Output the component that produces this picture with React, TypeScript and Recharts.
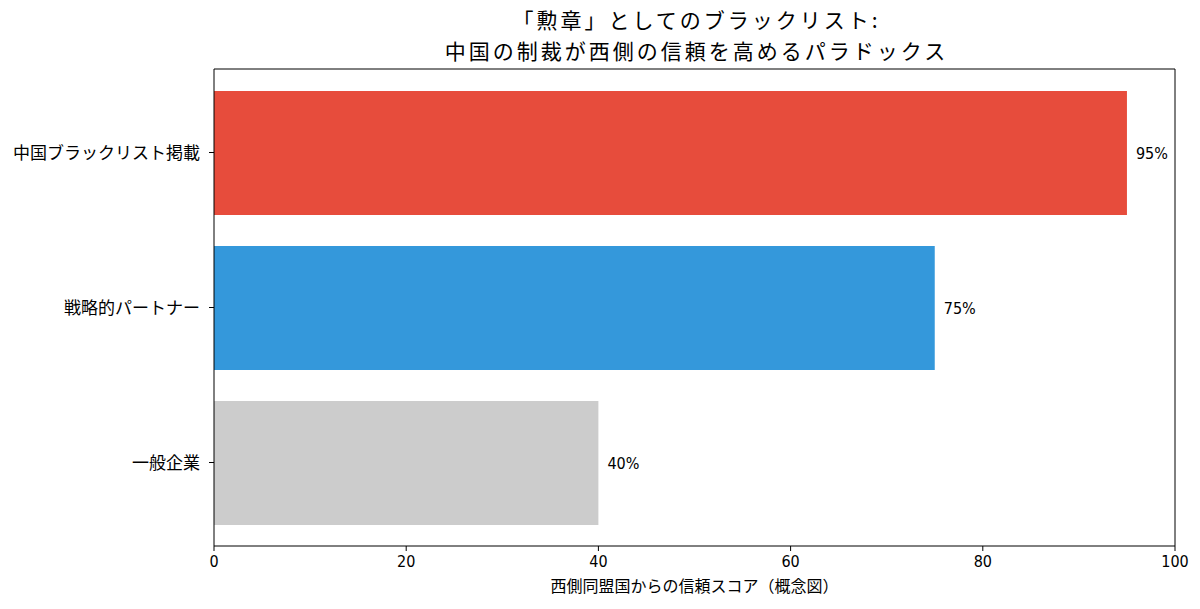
import React from "react";
import {
  BarChart,
  Bar,
  XAxis,
  YAxis,
  Cell,
  LabelList,
} from "recharts";

const categories = ["中国ブラックリスト掲載", "戦略的パートナー", "一般企業"];
const trustScores = [95, 75, 40];
const barColors = ["#e74c3c", "#3498db", "#cccccc"];
const xTicks = [0, 20, 40, 60, 80, 100];

const titleLines = ["「勲章」としてのブラックリスト:", "中国の制裁が西側の信頼を高めるパラドックス"];
const xLabel = "西側同盟国からの信頼スコア（概念図）";

const data = categories.map((name, i) => ({ name, score: trustScores[i] }));

const jpFont = '"Noto Sans CJK JP", "Noto Sans", sans-serif';
const numFont = '"Liberation Sans Narrow", "DejaVu Sans Condensed", "Roboto Condensed", "Noto Sans CJK JP", sans-serif';

export default function App() {
  return (
    <div
      style={{
        position: "absolute",
        left: 0,
        top: 0,
        width: 1200,
        height: 609,
        background: "#fff",
        fontFamily: jpFont,
      }}
    >
      <div
        style={{
          position: "absolute",
          left: 0,
          top: 4,
          width: 1393,
          textAlign: "center",
          fontSize: 21,
          lineHeight: "31px",
          letterSpacing: 3,
          color: "#000",
        }}
      >
        {titleLines.map((t) => (
          <div key={t}>{t}</div>
        ))}
      </div>
      <BarChart
        width={1200}
        height={609}
        data={data}
        layout="vertical"
        margin={{ top: 68, right: 24, bottom: 14, left: 14 }}
      >
        <XAxis
          type="number"
          domain={[0, 100]}
          ticks={xTicks}
          tick={{ fill: "#000", fontSize: 16, fontFamily: numFont }}
          tickLine={{ stroke: "#000" }}
          axisLine={{ stroke: "#000" }}
          tickSize={5}
          tickMargin={5}
          height={49}
          label={{
            value: xLabel,
            position: "insideBottom",
            offset: 3,
            fill: "#000",
            fontSize: 16,
            fontFamily: jpFont,
          }}
        />
        <XAxis
          xAxisId="top"
          orientation="top"
          type="number"
          domain={[0, 100]}
          tick={false}
          tickLine={false}
          axisLine={{ stroke: "#000" }}
          height={1}
        />
        <YAxis
          type="category"
          dataKey="name"
          width={200}
          padding={{ top: 6, bottom: 6 }}
          tick={{ fill: "#000", fontSize: 17, fontFamily: jpFont }}
          tickLine={{ stroke: "#000" }}
          axisLine={{ stroke: "#000" }}
          tickSize={5}
          tickMargin={9}
        />
        <YAxis
          yAxisId="right"
          orientation="right"
          type="category"
          dataKey="name"
          tick={false}
          tickLine={false}
          axisLine={{ stroke: "#000" }}
          width={1}
        />
        <Bar dataKey="score" barSize={124} isAnimationActive={false}>
          {data.map((d, i) => (
            <Cell key={d.name} fill={barColors[i]} />
          ))}
          <LabelList
            dataKey="score"
            position="right"
            offset={9}
            formatter={(v: number) => `${v}%`}
            fill="#000"
            fontSize={16}
            fontFamily={numFont}
          />
        </Bar>
      </BarChart>
    </div>
  );
}
